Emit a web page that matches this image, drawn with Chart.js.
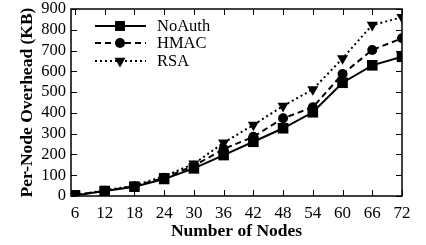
<!DOCTYPE html>
<html><head><meta charset="utf-8">
<script src="https://cdn.jsdelivr.net/npm/chart.js@4/dist/chart.umd.min.js"></script>
<style>html,body{margin:0;padding:0;background:#fff}#wrap{width:426px;height:245px}</style>
</head><body><div id="wrap"><canvas id="c" width="426" height="245"></canvas></div>
<script>
const nodes = [6,12,18,24,30,36,42,48,54,60,66,72];
const noAuth = [3,24,45,82,133,197,261,326,403,545,629,670];
const hmac   = [4,25,47,88,145,226,285,374,427,587,703,759];
const rsa    = [5,27,50,95,155,256,342,433,513,662,823,860];
const yTicks = [0,100,200,300,400,500,600,700,800,900];
const seriesNames = ['NoAuth','HMAC','RSA'];
const FONT = '"Liberation Serif", "Times New Roman", serif';

const mk = (arr)=>arr.map((v,i)=>({x:nodes[i],y:v}));
const styles = [
  {dash:[], pt:'rect', r:7.5, rot:0},
  {dash:[6,4], pt:'circle', r:5, rot:0},
  {dash:[2,3], pt:'triangle', r:6.4, rot:180}
];
const datasets = [noAuth,hmac,rsa].map((d,i)=>({
  label: seriesNames[i], data: mk(d),
  borderColor:'#000', backgroundColor:'#000', borderWidth:2,
  borderDash: styles[i].dash, pointStyle: styles[i].pt,
  pointRadius: styles[i].r, pointRotation: styles[i].rot,
  pointBorderWidth:0, tension:0
}));

const framePlugin = {
  id:'frame',
  afterDatasetsDraw(chart){
    const {ctx, chartArea:a, scales:{x,y}} = chart;
    ctx.save();
    ctx.strokeStyle='#000'; ctx.lineWidth=1.5; ctx.setLineDash([]);
    ctx.strokeRect(a.left,a.top,a.right-a.left,a.bottom-a.top);
    ctx.lineWidth=1;
    ctx.beginPath();
    nodes.forEach(v=>{const px=Math.round(x.getPixelForValue(v))+0.5;
      ctx.moveTo(px,a.bottom); ctx.lineTo(px,a.bottom-6);
      ctx.moveTo(px,a.top); ctx.lineTo(px,a.top+6);});
    yTicks.forEach(v=>{const py=Math.round(y.getPixelForValue(v))+0.5;
      ctx.moveTo(a.left,py); ctx.lineTo(a.left+6,py);
      ctx.moveTo(a.right,py); ctx.lineTo(a.right-6,py);});
    ctx.stroke();
    // legend
    const rows=[26,43,61];
    const x0=95,x1=146,xm=120;
    ctx.font='16.5px '+FONT; ctx.fillStyle='#000'; ctx.textBaseline='middle'; ctx.textAlign='left';
    datasets.forEach((ds,i)=>{
      const yy=rows[i];
      ctx.lineWidth=2; ctx.setLineDash(styles[i].dash);
      ctx.beginPath(); ctx.moveTo(x0,yy); ctx.lineTo(x1,yy); ctx.stroke();
      ctx.setLineDash([]);
      const r = i===0 ? 7 : styles[i].r;
      Chart.helpers.drawPoint(ctx,{pointStyle:styles[i].pt,radius:r,rotation:styles[i].rot,borderWidth:0},xm,yy);
      ctx.fillText(ds.label,157,yy+1);
    });
    ctx.restore();
  }
};

new Chart(document.getElementById('c'),{
  type:'line',
  data:{datasets},
  options:{
    responsive:false, animation:false, devicePixelRatio:1,
    layout:{padding:{top:9,right:24,left:0,bottom:0}},
    plugins:{legend:{display:false},tooltip:{enabled:false}},
    scales:{
      x:{type:'linear',min:5.2,max:72,
        afterBuildTicks(s){s.ticks=nodes.map(v=>({value:v}));},
        afterFit(s){s.height=49;s.paddingLeft=0;s.paddingRight=0;},
        grid:{display:false,drawTicks:false}, border:{display:false},
        ticks:{color:'#000',font:{family:FONT,size:17},padding:7,maxRotation:0,autoSkip:false},
        title:{display:true,text:'Number of Nodes',color:'#000',font:{family:FONT,size:17.5,weight:'bold'},padding:{top:0,bottom:3}}
      },
      y:{min:0,max:900,
        afterBuildTicks(s){s.ticks=yTicks.map(v=>({value:v}));},
        afterFit(s){s.width=71;s.paddingTop=0;s.paddingBottom=0;},
        grid:{display:false,drawTicks:false}, border:{display:false},
        ticks:{color:'#000',font:{family:FONT,size:16.5},padding:5,autoSkip:false},
        title:{display:true,text:'Per-Node Overhead (KB)',color:'#000',font:{family:FONT,size:17.5,weight:'bold'},padding:{top:17,bottom:0}}
      }
    }
  },
  plugins:[framePlugin]
});
</script></body></html>
